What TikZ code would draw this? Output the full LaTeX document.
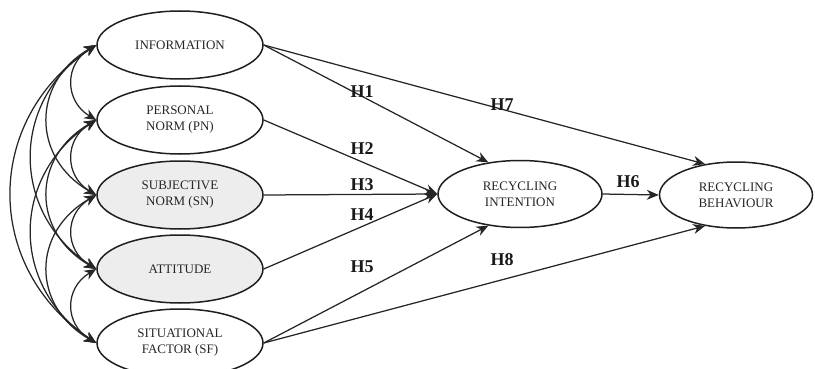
\documentclass[tikz,border=0pt]{standalone}
\usepackage{fontspec}
\setmainfont{Liberation Serif}
\usetikzlibrary{shapes.geometric,arrows.meta}
\begin{document}
\begin{tikzpicture}[x=1pt,y=-1pt,
  cons/.style={ellipse,draw=black!88,line width=1.5pt,minimum width=166pt,minimum height=68pt,inner sep=0pt,align=center,font=\fontsize{13}{16}\selectfont,text=black!85},
  shaded/.style={fill=black!7},
  arr/.style={draw=black!85,line width=1.25pt,-{Stealth[length=12pt,width=10pt]}},
  cov/.style={draw=black!85,line width=1.25pt,{Stealth[length=12pt,width=10pt]}-{Stealth[length=12pt,width=10pt]}},
  hlab/.style={font=\fontsize{18}{21}\selectfont\bfseries,text=black!90}]
\useasboundingbox (0,0) rectangle (815,369);
% constructs
\node[cons] (info) at (180,45) {INFORMATION};
\node[cons] (pn) at (180,120) {PERSONAL\\NORM (PN)};
\node[cons,shaded] (sn) at (180,195) {SUBJECTIVE\\NORM (SN)};
\node[cons,shaded] (att) at (180,269) {ATTITUDE};
\node[cons] (sf) at (180,343) {SITUATIONAL\\FACTOR (SF)};
\node[cons,minimum width=164pt,minimum height=67pt] (int) at (520,194) {RECYCLING\\INTENTION};
\node[cons,minimum width=153pt,minimum height=66pt] (beh) at (736,195) {RECYCLING\\BEHAVIOUR};
% paths
\draw[arr] (info.east) -- (int.135);
\draw[arr] (info.east) -- (beh.135);
\draw[arr] (pn.east) -- (int.west);
\draw[arr] (sn.east) -- (int.west);
\draw[arr] (att.east) -- (int.west);
\draw[arr] (sf.east) -- (int.225);
\draw[arr] (sf.east) -- (beh.225);
\draw[arr] (int.east) -- (beh.west);
% labels
\node[hlab] (h1) at (362,92) {H1};
\node[hlab] (h2) at (362,149) {H2};
\node[hlab] (h3) at (362,185) {H3};
\node[hlab] (h4) at (362,215) {H4};
\node[hlab] (h5) at (362,267) {H5};
\node[hlab] (h6) at (628,182) {H6};
\node[hlab] (h7) at (502,105) {H7};
\node[hlab] (h8) at (502,260) {H8};
% covariances
\draw[cov] (info.west) .. controls +(-32,19) and +(-32,-19) .. (pn.west);
\draw[cov] (pn.west) .. controls +(-32,19) and +(-32,-19) .. (sn.west);
\draw[cov] (sn.west) .. controls +(-32,19) and +(-32,-19) .. (att.west);
\draw[cov] (att.west) .. controls +(-32,19) and +(-32,-19) .. (sf.west);
\draw[cov] (info.west) .. controls +(-65,37) and +(-65,-37) .. (sn.west);
\draw[cov] (pn.west) .. controls +(-65,37) and +(-65,-37) .. (att.west);
\draw[cov] (sn.west) .. controls +(-65,37) and +(-65,-37) .. (sf.west);
\draw[cov] (info.west) .. controls +(-86,56) and +(-86,-56) .. (att.west);
\draw[cov] (pn.west) .. controls +(-86,56) and +(-86,-56) .. (sf.west);
\draw[cov] (info.west) .. controls +(-113,75) and +(-113,-75) .. (sf.west);
\end{tikzpicture}
\end{document}
